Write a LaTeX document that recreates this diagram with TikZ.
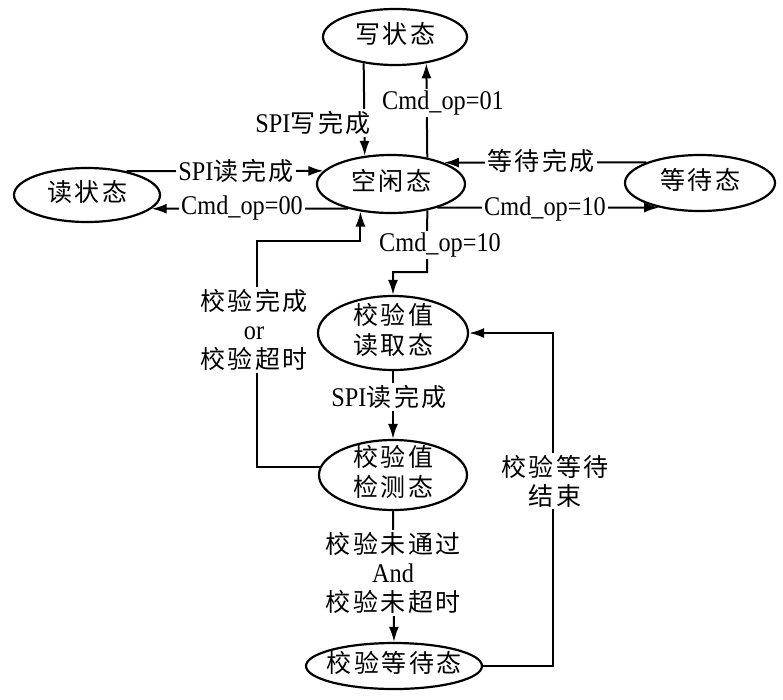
\documentclass[tikz,border=0pt]{standalone}
\usepackage{fontspec}
\setmainfont{Liberation Serif}[FakeStretch=0.9]
\newfontfamily\cjk[LetterSpace=10]{Noto Sans CJK SC}
\usetikzlibrary{shapes.geometric,arrows.meta}
\newcommand{\zh}[1]{{\cjk\fontsize{25}{29}\selectfont #1}}
\newcommand{\zbox}[1]{\vbox to 0pt{\vss\hbox to 0pt{\hss\begin{tabular}{@{}c@{}}#1\end{tabular}\hss}\vss}}
\begin{document}
\begin{tikzpicture}[x=1pt,y=-1pt,
  st/.style={ellipse,draw,line width=2.2pt,inner sep=0pt,font=\fontsize{27}{29}\selectfont},
  lbl/.style={fill=white,inner sep=2pt,align=center,font=\fontsize{27}{29}\selectfont},
  arr/.style={line width=2pt,-{Latex[length=15pt,width=10pt]}}]
\useasboundingbox (0,0) rectangle (783,699);
% states
\node[st,minimum width=144pt,minimum height=56pt] (W) at (395,37) {\zbox{\zh{写状态}}};
\node[st,minimum width=148pt,minimum height=58pt] (I) at (391,184) {\zbox{\zh{空闲态}}};
\node[st,minimum width=146pt,minimum height=54pt] (R) at (87,195) {\zbox{\zh{读状态}}};
\node[st,minimum width=150pt,minimum height=56pt] (D) at (700,183) {\zbox{\zh{等待态}}};
\node[st,minimum width=150pt,minimum height=74pt] (VR) at (393,333) {\zbox{\zh{校验值}\\\zh{读取态}}};
\node[st,minimum width=148pt,minimum height=70pt] (VC) at (393,475) {\zbox{\zh{校验值}\\\zh{检测态}}};
\node[st,minimum width=176pt,minimum height=46pt] (VW) at (394,666) {\zbox{\zh{校验等待态}}};
% transitions
\draw[arr] (W.220.4) -- (I.133.7);
\node[lbl] (l1) at (313,123) {SPI\zh{写完成}};
\draw[arr] (I.36.2) -- (W.320.8);
\node[lbl] (l2) at (443,103) {Cmd\_op=01};
\draw[arr] (R.31) -- (I.169.9);
\node[lbl] (l3) at (236,171) {SPI\zh{读完成}};
\draw[arr] (I.210) -- (R.348.5);
\node[lbl] (l4) at (242,208) {Cmd\_op=00};
\draw[arr] (D.159.1) -- (I.22.4);
\node[lbl] (l5) at (541,161) {\zh{等待完成}};
\draw[arr] (I.333) -- (D.211.9);
\node[lbl] (l6) at (545,209) {Cmd\_op=10};
\coordinate (k1) at (427,272);
\draw[arr] (I.324.9) -- (k1) -| (VR.north);
\node[lbl] (l7) at (440,245) {Cmd\_op=10};
\draw[arr] (VR.south) -- (VC.north);
\node[lbl] (l8) at (389,397) {SPI\zh{读完成}};
\coordinate (k2) at (257,241);
\draw[arr] (VC.174.5) -| (k2) -| (I.222.6);
\node[lbl] (l9) at (254,330) {\zh{校验完成}\\or\\\zh{校验超时}};
\draw[arr] (VC.south) -- (VW.north);
\node[lbl] (l10) at (393,573) {\zh{校验未通过}\\And\\\zh{校验未超时}};
\coordinate (k3) at (553,333);
\draw[arr] (VW.east) -| (k3) -- (VR.east);
\node[lbl] (l11) at (555,481) {\zh{校验等待}\\\zh{结束}};
\end{tikzpicture}
\end{document}
